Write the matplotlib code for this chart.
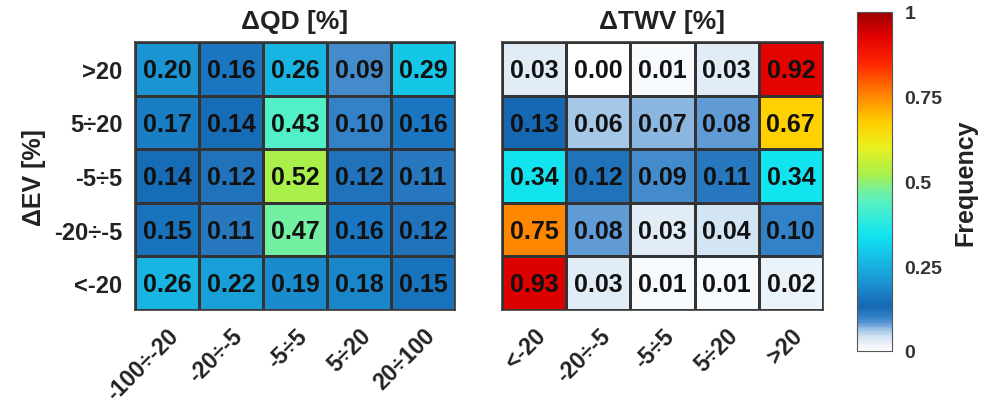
import numpy as np
import matplotlib
matplotlib.use("Agg")
import matplotlib.pyplot as plt
from matplotlib.colors import LinearSegmentedColormap

plt.rcParams["font.family"] = ["Liberation Sans", "DejaVu Sans"]
plt.rcParams["font.weight"] = "bold"

# Données (lignes de haut en bas)
ev_labels = [">20", "5÷20", "-5÷5", "-20÷-5", "<-20"]
qd_labels = ["-100÷-20", "-20÷-5", "-5÷5", "5÷20", "20÷100"]
twv_labels = ["<-20", "-20÷-5", "-5÷5", "5÷20", ">20"]

qd_freq = np.array([
    [0.20, 0.16, 0.26, 0.09, 0.29],
    [0.17, 0.14, 0.43, 0.10, 0.16],
    [0.14, 0.12, 0.52, 0.12, 0.11],
    [0.15, 0.11, 0.47, 0.16, 0.12],
    [0.26, 0.22, 0.19, 0.18, 0.15],
])
twv_freq = np.array([
    [0.03, 0.00, 0.01, 0.03, 0.92],
    [0.13, 0.06, 0.07, 0.08, 0.67],
    [0.34, 0.12, 0.09, 0.11, 0.34],
    [0.75, 0.08, 0.03, 0.04, 0.10],
    [0.93, 0.03, 0.01, 0.01, 0.02],
])

# Colormap type "jet" avec du blanc en bas
cmap = LinearSegmentedColormap.from_list("white_jet", [
    (0.00, "#ffffff"),
    (0.02, "#eaf2fa"),
    (0.04, "#d2e3f3"),
    (0.06, "#a2c5e7"),
    (0.08, "#5a97d3"),
    (0.10, "#2f80c6"),
    (0.13, "#1668b2"),
    (0.16, "#1a78c2"),
    (0.20, "#1a94d2"),
    (0.26, "#18b6e2"),
    (0.34, "#10e4f0"),
    (0.43, "#50f0c8"),
    (0.47, "#72f0a2"),
    (0.52, "#a8f04c"),
    (0.60, "#e8f020"),
    (0.67, "#ffd200"),
    (0.75, "#ff8a00"),
    (0.85, "#ff2400"),
    (0.93, "#e00000"),
    (1.00, "#9c0000"),
])

fig = plt.figure(figsize=(9.87, 4.14), dpi=100)
ax1 = fig.add_axes([0.1368, 0.2488, 0.3242, 0.647])
ax2 = fig.add_axes([0.5086, 0.2488, 0.3252, 0.647])
cax = fig.add_axes([0.868, 0.150, 0.0355, 0.819])


def draw_heatmap(ax, data, xlabels, title):
    mesh = ax.pcolormesh(data, cmap=cmap, vmin=0, vmax=1,
                         edgecolors="#333333", linewidth=0.9)
    ax.set_xlim(0, data.shape[1])
    ax.set_ylim(data.shape[0], 0)
    for i in range(data.shape[0]):
        for j in range(data.shape[1]):
            ax.text(j + 0.5, i + 0.52, f"{data[i, j]:.2f}", ha="center",
                    va="center", fontsize=18, fontweight="bold",
                    color="#111111")
    ax.set_xticks(np.arange(data.shape[1]) + 0.5)
    ax.set_xticklabels(xlabels, rotation=45, ha="right", va="top",
                       rotation_mode="anchor", fontsize=16.5,
                       fontweight="bold", color="#222222")
    ax.tick_params(length=0, pad=10)
    ax.set_title(title, fontsize=19, fontweight="bold", pad=10,
                 color="#222222")
    for s in ax.spines.values():
        s.set_color("#3a3a3a")
        s.set_linewidth(1.2)
    return mesh


mesh = draw_heatmap(ax1, qd_freq, qd_labels, "ΔQD [%]")
ax1.set_yticks(np.arange(len(ev_labels)) + 0.5)
ax1.set_yticklabels(ev_labels, fontsize=17, fontweight="bold",
                    color="#222222")
ax1.tick_params(axis="y", pad=9)
ax1.set_ylabel("ΔEV [%]", fontsize=18, fontweight="bold", labelpad=6,
               color="#222222")

draw_heatmap(ax2, twv_freq, twv_labels, "ΔTWV [%]")
ax2.set_yticks([])

cb = fig.colorbar(mesh, cax=cax, ticks=[0, 0.25, 0.5, 0.75, 1])
cb.ax.set_yticklabels(["0", "0.25", "0.5", "0.75", "1"], fontsize=14,
                      fontweight="bold", color="#333333")
cb.ax.tick_params(length=0, pad=9)
cb.outline.set_edgecolor("#555555")
cb.set_label("Frequency", fontsize=18, fontweight="bold", labelpad=8,
             color="#222222")

fig.savefig("out.png", dpi=100)
